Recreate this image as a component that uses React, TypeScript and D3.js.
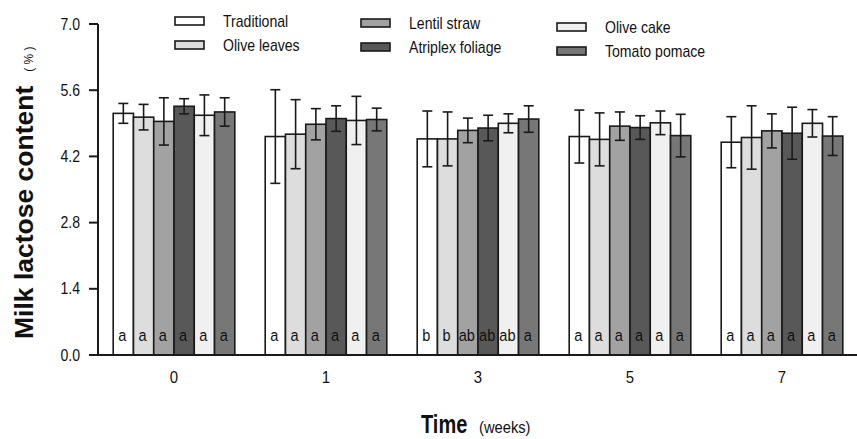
import React from "react";
import * as d3 from "d3";

// weeks on the x axis, diets as the grouped bars
const weeks = ["0", "1", "3", "5", "7"];
const diets = ["Traditional", "Olive leaves", "Lentil straw", "Atriplex foliage", "Olive cake", "Tomato pomace"];
const dietColors = ["#ffffff", "#dddddd", "#a2a2a2", "#585858", "#f0f0f0", "#777777"];

// mean milk lactose (%) per week, one array per diet
const traditional = [5.11, 4.62, 4.57, 4.62, 4.50];
const oliveLeaves = [5.03, 4.67, 4.57, 4.56, 4.60];
const lentilStraw = [4.94, 4.88, 4.75, 4.84, 4.74];
const atriplex = [5.26, 5.00, 4.80, 4.81, 4.69];
const oliveCake = [5.07, 4.96, 4.90, 4.91, 4.90];
const tomatoPomace = [5.14, 4.98, 4.99, 4.64, 4.63];

// error bar half lengths
const traditionalErr = [0.21, 0.99, 0.59, 0.56, 0.54];
const oliveLeavesErr = [0.27, 0.73, 0.57, 0.56, 0.67];
const lentilStrawErr = [0.50, 0.33, 0.26, 0.30, 0.36];
const atriplexErr = [0.16, 0.27, 0.27, 0.25, 0.55];
const oliveCakeErr = [0.43, 0.51, 0.20, 0.25, 0.29];
const tomatoPomaceErr = [0.30, 0.24, 0.28, 0.45, 0.41];

// significance letters, per week
const letters = [
	["a", "a", "a", "a", "a", "a"],
	["a", "a", "a", "a", "a", "a"],
	["b", "b", "ab", "ab", "ab", "a"],
	["a", "a", "a", "a", "a", "a"],
	["a", "a", "a", "a", "a", "a"],
];

const yTicks = [0, 1.4, 2.8, 4.2, 5.6, 7.0];

const means = [traditional, oliveLeaves, lentilStraw, atriplex, oliveCake, tomatoPomace];
const errs = [traditionalErr, oliveLeavesErr, lentilStrawErr, atriplexErr, oliveCakeErr, tomatoPomaceErr];

const W = 857, H = 439;
const margin = { top: 24, right: 0, bottom: 84, left: 98 };
const font = "'Liberation Sans', Arial, sans-serif";
const narrow = 0.88;

const App = () => {
	const y = d3.scaleLinear().domain([0, 7]).range([H - margin.bottom, margin.top]);
	const x0 = d3.scaleBand().domain(weeks).range([margin.left, 858]).paddingInner(0.2).paddingOuter(0.1);
	const x1 = d3.scaleBand().domain(diets).range([0, x0.bandwidth()]);
	const y0 = y(0);
	const ink = "#1a1a1a";

	const legendX = [175, 361, 557];
	const legendY = [21, 45];
	const legendShift = [0, 2, 6];

	return (
		<svg width={W} height={H} style={{ position: "absolute", left: 0, top: 0, background: "#fff" }} fontFamily={font}>
			{/* bars */}
			{weeks.map((w, wi) => (
				<g key={w} transform={`translate(${x0(w)},0)`}>
					{diets.map((d, di) => {
						const v = means[di][wi];
						const e = errs[di][wi];
						const bx = x1(d) as number;
						const cx = bx + x1.bandwidth() / 2;
						return (
							<g key={d}>
								<rect x={bx} y={y(v)} width={x1.bandwidth()} height={y0 - y(v)}
									fill={dietColors[di]} stroke={ink} strokeWidth={1.6} />
								<line x1={cx} x2={cx} y1={y(v + e)} y2={y(v - e)} stroke={ink} strokeWidth={1.6} />
								<line x1={cx - 5} x2={cx + 5} y1={y(v + e)} y2={y(v + e)} stroke={ink} strokeWidth={1.6} />
								<line x1={cx - 5} x2={cx + 5} y1={y(v - e)} y2={y(v - e)} stroke={ink} strokeWidth={1.6} />
								<text transform={`translate(${cx - 1},341) scale(${narrow},1)`} textAnchor="middle"
									fontSize={16.5} fill="#111">{letters[wi][di]}</text>
							</g>
						);
					})}
				</g>
			))}

			{/* y axis */}
			<line x1={margin.left} x2={margin.left} y1={y(7)} y2={y0} stroke={ink} strokeWidth={2} />
			{yTicks.map(t => (
				<g key={t}>
					<line x1={margin.left - 9} x2={margin.left} y1={y(t)} y2={y(t)} stroke={ink} strokeWidth={2} />
					<text transform={`translate(${margin.left - 18},${y(t) + 5.5}) scale(${narrow},1)`} textAnchor="end"
						fontSize={16} fill="#111">{d3.format(".1f")(t)}</text>
				</g>
			))}

			{/* x axis */}
			<line x1={margin.left} x2={W} y1={y0} y2={y0} stroke={ink} strokeWidth={2} />
			{weeks.map(w => (
				<text key={w} transform={`translate(${(x0(w) as number) + x0.bandwidth() / 2},383) scale(${narrow},1)`}
					textAnchor="middle" fontSize={17} fill="#111">{w}</text>
			))}

			{/* axis titles */}
			<text transform={`translate(33,339) rotate(-90)`} fill="#111">
				<tspan fontSize={26.5} fontWeight="bold">Milk lactose content</tspan>
				<tspan fontSize={12} dx={14}>( % )</tspan>
			</text>
			<text transform={`translate(421,433) scale(0.8,1)`} fill="#111">
				<tspan fontSize={25} fontWeight="bold">Time</tspan>
			</text>
			<text transform={`translate(479,433) scale(0.92,1)`} fontSize={16} fill="#111">(weeks)</text>

			{/* legend */}
			{diets.map((d, i) => {
				const col = Math.floor(i / 2), row = i % 2;
				const lx = legendX[col], ly = legendY[row] + legendShift[col];
				return (
					<g key={d}>
						<rect x={lx} y={ly - 4} width={29} height={8} fill={dietColors[i]} stroke={ink} strokeWidth={1.6} />
						<text transform={`translate(${lx + 48},${ly + 6}) scale(${narrow},1)`} fontSize={16} fill="#111">{d}</text>
					</g>
				);
			})}
		</svg>
	);
};

export default App;
